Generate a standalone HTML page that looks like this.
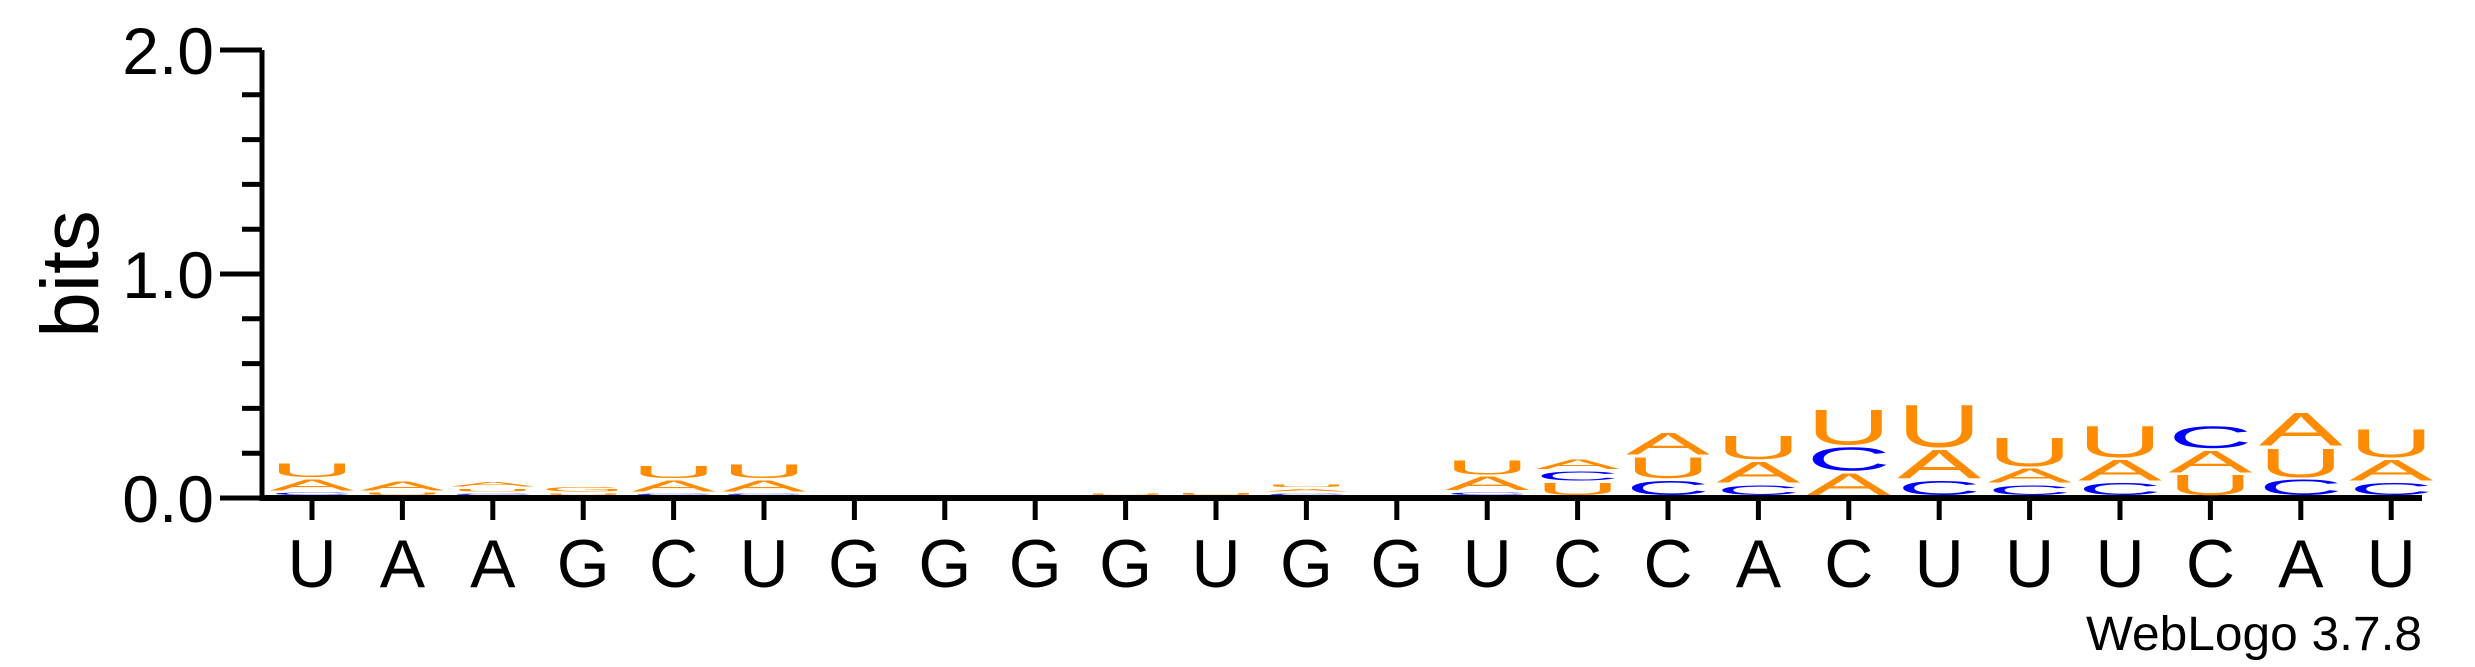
<!DOCTYPE html>
<html><head><meta charset="utf-8"><style>
html,body{margin:0;padding:0;background:#fff;}
svg{display:block;font-family:"Liberation Sans",sans-serif;}
</style></head><body>
<svg id="chart" width="2475" height="667" viewBox="0 0 2475 667" xmlns="http://www.w3.org/2000/svg">
<g id="axes"></g>
<g id="stacks"></g>
<text x="0" y="0" font-size="82" transform="translate(98,274) rotate(-90)" text-anchor="middle">bits</text>
<text x="2422" y="650" font-size="48" text-anchor="end" textLength="336" lengthAdjust="spacingAndGlyphs">WebLogo 3.7.8</text>
</svg>
<script>
const positions = ["U","A","A","G","C","U","G","G","G","G","U","G","G","U","C","C","A","C","U","U","U","C","A","U"];
const stackLetters = [
 ["C","A","U"],["U","A"],["C","U","A"],["U","G"],["C","A","U"],["C","A","U"],
 [],[],[],["U"],["U"],["C","A","U"],[],
 ["C","A","U"],["U","C","A"],["C","U","A"],["C","A","U"],["A","C","U"],["C","A","U"],
 ["C","A","U"],["C","A","U"],["U","A","C"],["C","U","A"],["C","A","U"]
];
const stackHeights = [
 [0.01,0.05,0.06],[0.01,0.04],[0.005,0.012,0.02],[0.005,0.02],[0.005,0.05,0.055],[0.005,0.05,0.06],
 [],[],[],[0.006],[0.008],[0.005,0.01,0.012],[],
 [0.012,0.06,0.065],[0.055,0.04,0.045],[0.065,0.095,0.1],[0.045,0.095,0.105],[0.1,0.105,0.16],[0.065,0.13,0.19],
 [0.045,0.065,0.13],[0.055,0.095,0.14],[0.09,0.1,0.1],[0.07,0.13,0.15],[0.055,0.095,0.125]
];
const yTicks = [0,0.2,0.4,0.6,0.8,1.0,1.2,1.4,1.6,1.8,2.0];
const yTickLabels = ["0.0","","","","","1.0","","","","","2.0"];
const NS="http://www.w3.org/2000/svg";
const y0=498, pxPerBit=224, x0=312, colW=90.4, axisX=262;
const yScale=v=>y0-v*pxPerBit;
const xScale=i=>x0+i*colW;
const colors={A:"#FF8C00",U:"#FF8C00",G:"#FF8C00",C:"#0000FF"};
const axes=document.getElementById('axes');
function mk(tag,attrs,parent){const e=document.createElementNS(NS,tag);for(const k in attrs)e.setAttribute(k,attrs[k]);parent.appendChild(e);return e;}
let l=mk('line',{x1:axisX,y1:yScale(2),x2:axisX,y2:y0+3,stroke:"#000","stroke-width":5},axes);


l=mk('line',{x1:axisX-2,y1:y0,x2:2422,y2:y0,stroke:"#000","stroke-width":6},axes);


yTicks.forEach((v,i)=>{
  const major=yTickLabels[i]!=="";
  const t=mk('line',{x1:major?220:242,y1:yScale(v),x2:axisX,y2:yScale(v),stroke:"#000","stroke-width":5},axes);
  
  
  if(major){
    const tx=mk('text',{x:214,y:yScale(v)+24,"font-size":66,"text-anchor":"end"},axes);
    tx.textContent=yTickLabels[i];
    
    
  }
});
positions.forEach((p,i)=>{
  const x=xScale(i);
  const t=mk('line',{x1:x,y1:y0,x2:x,y2:520,stroke:"#000","stroke-width":5},axes);
  
  
  const tx=mk('text',{x:x,y:587,"font-size":68,"text-anchor":"middle"},axes);
  tx.textContent=p;
  
  
});
const stacks=document.getElementById('stacks');
stackLetters.forEach((letters,i)=>{
  const x=xScale(i);
  let cum=0;
  letters.forEach((L,j)=>{
    const h=stackHeights[i][j];
    const bottom=yScale(cum)-3;
    const hpx=Math.max(h*pxPerBit,0.5);
    cum+=h+0.01;
    const e=mk('text',{x:0,y:0,"font-size":100,"text-anchor":"middle",fill:colors[L],textLength:84,lengthAdjust:"spacingAndGlyphs",transform:`translate(${x},${bottom}) scale(1,${hpx/71})`},stacks);
    e.textContent=L;
    
    
  });
});
</script>
</body></html>
